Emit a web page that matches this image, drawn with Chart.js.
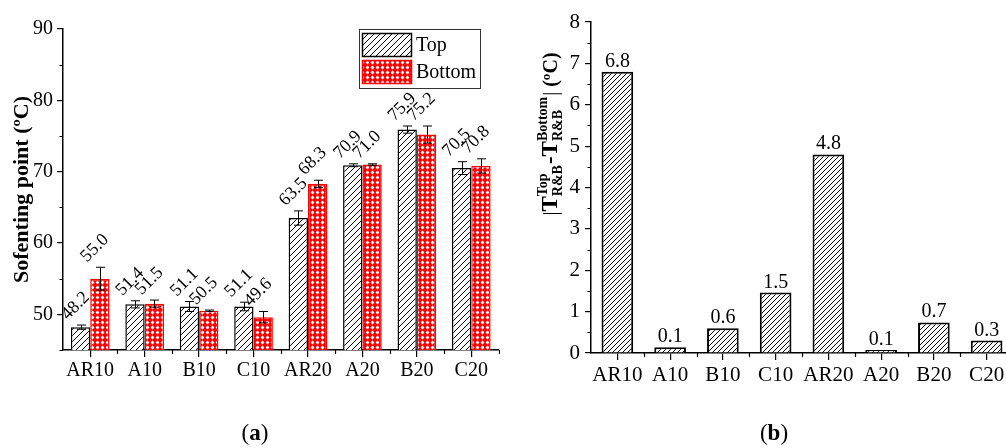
<!DOCTYPE html>
<html>
<head>
<meta charset="utf-8">
<script src="https://cdn.jsdelivr.net/npm/chart.js@4.4.1/dist/chart.umd.min.js"></script>
<style>
    html, body { margin: 0; padding: 0; background: #fff; overflow: hidden; }
    #wrap { position: relative; width: 1006px; height: 448px; overflow: hidden; font-family: "Liberation Serif", serif; }
    #chartA { position: absolute; left: 0; top: 0; }
    #chartB { position: absolute; left: 500px; top: 0; }
    .panel { position: absolute; top: 420px; font-size: 23px; color: #000; transform: translateX(-50%); }
</style>
</head>
<body>
<div id="wrap">
    <canvas id="chartA" width="500" height="448"></canvas>
    <canvas id="chartB" width="520" height="448"></canvas>
    <div class="panel" style="left:255px">(<b>a</b>)</div>
    <div class="panel" style="left:774px">(<b>b</b>)</div>
</div>
<script>
const categories = ['AR10', 'A10', 'B10', 'C10', 'AR20', 'A20', 'B20', 'C20'];
const topValues = [48.2, 51.4, 51.1, 51.1, 63.5, 70.9, 75.9, 70.5];
const bottomValues = [55.0, 51.5, 50.5, 49.6, 68.3, 71.0, 75.2, 70.8];
const topErrors = [0.3, 0.5, 0.7, 0.6, 1.0, 0.2, 0.5, 0.9];
const bottomErrors = [1.6, 0.5, 0.1, 0.8, 0.5, 0.1, 1.2, 1.0];
const diffValues = [6.8, 0.14, 0.6, 1.46, 4.8, 0.07, 0.74, 0.3];

Chart.defaults.font.family = '"Liberation Serif", serif';
Chart.defaults.color = '#000';

function hatch(size, color) {
    const c = document.createElement('canvas');
    c.width = size; c.height = size;
    const g = c.getContext('2d');
    g.fillStyle = '#fff';
    g.fillRect(0, 0, size, size);
    g.strokeStyle = color;
    g.lineWidth = 1;
    g.beginPath();
    g.moveTo(-1, size + 1); g.lineTo(size + 1, -1);
    g.moveTo(-1, 1); g.lineTo(1, -1);
    g.moveTo(size - 1, size + 1); g.lineTo(size + 1, size - 1);
    g.stroke();
    return g.createPattern(c, 'repeat');
}

function crossHatch(size, color) {
    const c = document.createElement('canvas');
    c.width = size; c.height = size;
    const g = c.getContext('2d');
    g.fillStyle = color;
    g.fillRect(0, 0, size, size);
    const m = size / 2, r = 1.9;
    g.fillStyle = '#fff';
    g.beginPath();
    g.moveTo(m, m - r); g.lineTo(m + r, m); g.lineTo(m, m + r); g.lineTo(m - r, m);
    g.closePath();
    g.fill();
    return g.createPattern(c, 'repeat');
}

// short ticks between the labelled ones
const minorTicks = {
    id: 'minorTicks',
    afterDraw(chart, args, opts) {
        const c = chart.ctx, x = chart.scales.x, y = chart.scales.y;
        c.save();
        c.strokeStyle = '#000';
        c.lineWidth = 1.2;
        c.beginPath();
        const half = opts.step / 2;
        for (let v = y.min; v <= y.max + 1e-9; v += half) {
            const k = Math.round(v / half);
            if (k % 2 === 0) continue;
            const py = Math.round(y.getPixelForValue(v)) + 0.5;
            c.moveTo(y.right - 3.5, py); c.lineTo(y.right, py);
        }
        const n = chart.data.labels.length, w = x.width / n;
        for (let i = 1; i <= n; i++) {
            const px = Math.round(x.left + i * w) + 0.5;
            c.moveTo(px, x.top); c.lineTo(px, x.top + 4);
        }
        c.stroke();
        c.restore();
    }
};

const errorBars = {
    id: 'errorBars',
    afterDatasetsDraw(chart) {
        const c = chart.ctx, y = chart.scales.y;
        chart.data.datasets.forEach((ds, di) => {
            const meta = chart.getDatasetMeta(di);
            meta.data.forEach((bar, i) => {
                const v = ds.data[i], e = ds.errors[i];
                const yt = y.getPixelForValue(v + e), yb = y.getPixelForValue(v - e);
                const bx = Math.round(bar.x) + 0.5;
                c.save();
                c.strokeStyle = '#000';
                c.lineWidth = 1;
                c.beginPath();
                c.moveTo(bx, yt); c.lineTo(bx, yb);
                c.moveTo(bx - 4.5, yt); c.lineTo(bx + 4.5, yt);
                c.moveTo(bx - 4.5, yb); c.lineTo(bx + 4.5, yb);
                c.stroke();
                c.translate(bar.x - 5, yt - 19);
                c.rotate(-Math.PI / 4);
                c.font = '18px "Liberation Serif"';
                c.fillStyle = '#000';
                c.textAlign = 'center';
                c.textBaseline = 'middle';
                c.fillText(v.toFixed(1), 0, 0);
                c.restore();
            });
        });
    }
};

const boxLegend = {
    id: 'boxLegend',
    afterDraw(chart) {
        const c = chart.ctx;
        c.save();
        c.strokeStyle = '#333';
        c.lineWidth = 1;
        c.strokeRect(359.5, 29.5, 121, 59);
        chart.data.datasets.forEach((ds, i) => {
            const top = 33 + i * 27;
            c.fillStyle = ds.backgroundColor;
            c.fillRect(362, top, 50, 24);
            c.strokeStyle = ds.borderColor;
            c.lineWidth = 1.5;
            c.strokeRect(362.5, top + 0.5, 49, 23);
            c.fillStyle = '#000';
            c.font = '20px "Liberation Serif"';
            c.textAlign = 'left';
            c.textBaseline = 'middle';
            c.fillText(ds.label, 416, top + 13);
        });
        c.restore();
    }
};

const barLabels = {
    id: 'barLabels',
    afterDatasetsDraw(chart) {
        const c = chart.ctx;
        const ds = chart.data.datasets[0];
        c.save();
        c.font = '20px "Liberation Serif"';
        c.fillStyle = '#000';
        c.textAlign = 'center';
        c.textBaseline = 'alphabetic';
        chart.getDatasetMeta(0).data.forEach((bar, i) => {
            c.fillText(ds.data[i].toFixed(1), bar.x, bar.y - 5);
        });
        c.restore();
    }
};

// |T(Top, R&B) - T(Bottom, R&B)| (ºC), drawn rotated
const diffTitle = {
    id: 'diffTitle',
    afterDraw(chart) {
        const c = chart.ctx;
        const main = 'bold 23px "Liberation Serif"';
        const small = 'bold 14px "Liberation Serif"';
        const parts = [
            { t: '|', f: '20px "Liberation Serif"' },
            { t: 'T', f: main, sup: 'Top', sub: 'R&B' },
            { t: '-', f: main },
            { t: 'T', f: main, sup: 'Bottom', sub: 'R&B' },
            { t: '|', f: '20px "Liberation Serif"' },
            { t: ' (ºC)', f: 'bold 20px "Liberation Serif"' }
        ];
        let total = 0;
        parts.forEach(p => {
            c.font = p.f;
            p.w = c.measureText(p.t).width;
            if (p.sup) {
                c.font = small;
                p.s = Math.max(c.measureText(p.sup).width, c.measureText(p.sub).width) + 1;
            } else {
                p.s = 0;
            }
            total += p.w + p.s;
        });
        c.save();
        c.translate(57, 134);
        c.rotate(-Math.PI / 2);
        c.fillStyle = '#000';
        c.textAlign = 'left';
        c.textBaseline = 'alphabetic';
        let x = -total / 2;
        parts.forEach(p => {
            c.font = p.f;
            c.fillText(p.t, x, 0);
            x += p.w;
            if (p.sup) {
                c.font = small;
                c.fillText(p.sup, x, -10);
                c.fillText(p.sub, x, 5);
                x += p.s;
            }
        });
        c.restore();
    }
};

document.addEventListener("DOMContentLoaded", function () {
    const axisGrid = { drawOnChartArea: false, color: '#000', lineWidth: 1.2 };
    const axisBorder = { color: '#000', width: 1.5 };

    const ctxA = document.getElementById('chartA').getContext('2d');
    const chartA = new Chart(ctxA, {
        type: 'bar',
        data: {
            labels: categories,
            datasets: [{
                label: 'Top',
                data: topValues,
                errors: topErrors,
                backgroundColor: hatch(6, '#000'),
                borderColor: '#000',
                borderWidth: 1.5
            }, {
                label: 'Bottom',
                data: bottomValues,
                errors: bottomErrors,
                backgroundColor: crossHatch(5, '#ff0000'),
                borderColor: '#ff0000',
                borderWidth: 1.5
            }]
        },
        options: {
            responsive: false,
            animation: false,
            categoryPercentage: 0.71,
            barPercentage: 1.0,
            layout: { padding: { top: 29, right: 1.5, left: 0, bottom: 0 } },
            plugins: {
                legend: { display: false },
                tooltip: { enabled: false },
                minorTicks: { step: 10 }
            },
            scales: {
                x: {
                    grid: Object.assign({ offset: false, tickLength: 7 }, axisGrid),
                    border: axisBorder,
                    ticks: { color: '#000', font: { size: 20 }, padding: 2, maxRotation: 0, autoSkip: false },
                    afterFit: s => { s.height = 98; }
                },
                y: {
                    min: 45,
                    max: 90,
                    grid: Object.assign({ tickLength: 6 }, axisGrid),
                    border: axisBorder,
                    ticks: {
                        stepSize: 10,
                        includeBounds: false,
                        color: '#000',
                        font: { size: 20 },
                        padding: 4,
                        callback: v => (v % 10 === 0 ? v : '')
                    },
                    title: {
                        display: true,
                        text: 'Sofenting point (ºC)',
                        color: '#000',
                        font: { size: 22, weight: 'bold' },
                        padding: { top: 9, bottom: 0 }
                    },
                    afterFit: s => { s.width = 63; }
                }
            }
        },
        plugins: [minorTicks, errorBars, boxLegend]
    });

    const ctxB = document.getElementById('chartB').getContext('2d');
    const chartB = new Chart(ctxB, {
        type: 'bar',
        data: {
            labels: categories,
            datasets: [{
                label: 'Difference',
                data: diffValues,
                backgroundColor: hatch(5, '#000'),
                borderColor: '#000',
                borderWidth: 2,
                barPercentage: 0.6,
                categoryPercentage: 1.0
            }]
        },
        options: {
            responsive: false,
            animation: false,
            layout: { padding: { top: 22, right: 7, left: 0, bottom: 0 } },
            plugins: {
                legend: { display: false },
                tooltip: { enabled: false },
                minorTicks: { step: 1 }
            },
            scales: {
                x: {
                    grid: Object.assign({ offset: false, tickLength: 7 }, axisGrid),
                    border: axisBorder,
                    ticks: { color: '#000', font: { size: 21 }, padding: 3, maxRotation: 0, autoSkip: false },
                    afterFit: s => { s.height = 95; }
                },
                y: {
                    min: 0,
                    max: 8,
                    grid: Object.assign({ tickLength: 6 }, axisGrid),
                    border: axisBorder,
                    ticks: { stepSize: 1, color: '#000', font: { size: 21 }, padding: 5 },
                    afterFit: s => { s.width = 91; }
                }
            }
        },
        plugins: [minorTicks, barLabels, diffTitle]
    });
});
</script>
</body>
</html>
